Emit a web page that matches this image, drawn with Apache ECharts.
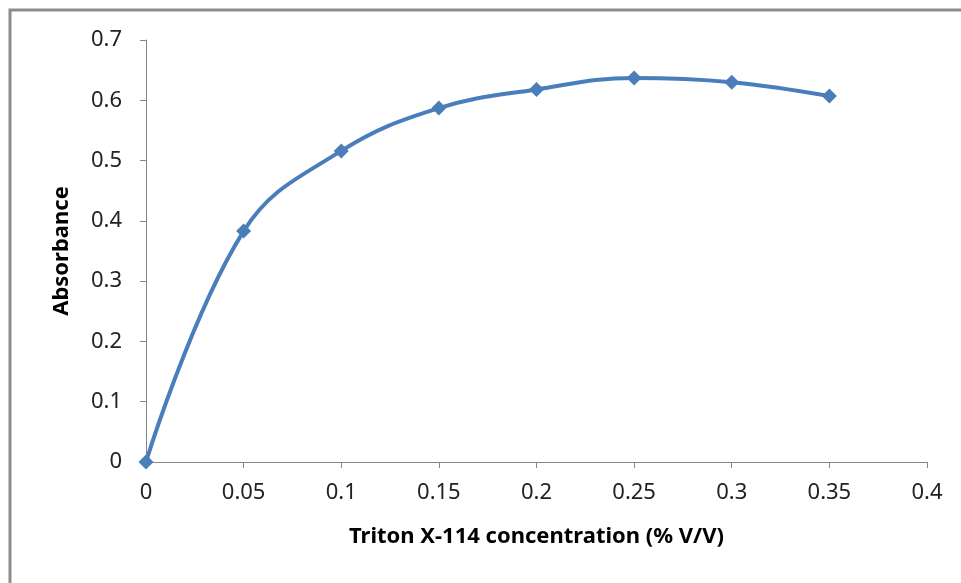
<!DOCTYPE html>
<html>
<head>
<meta charset="utf-8">
<script src="https://cdn.jsdelivr.net/npm/echarts@6/dist/echarts.min.js"></script>
<style>
  html, body { margin: 0; padding: 0; background: #fff; }
  #chart { width: 961px; height: 583px; }
</style>
</head>
<body>
<div id="chart"></div>
<script>
const concentration = [0, 0.05, 0.1, 0.15, 0.2, 0.25, 0.3, 0.35];
const absorbance = [0, 0.383, 0.516, 0.587, 0.618, 0.637, 0.630, 0.607];

const chart = echarts.init(document.getElementById("chart"));
const font = "Noto Sans";
const axisGray = "#868686";

const option = {
  animation: false,
  graphic: [
    {
      type: "polyline",
      shape: { points: [[10, 600], [10, 10], [980, 10]] },
      style: { stroke: "#8c8c8c", lineWidth: 3, fill: null },
    },
  ],
  grid: { left: 146, right: 34, top: 40, bottom: 121 },
  xAxis: {
    type: "value",
    min: 0,
    max: 0.4,
    interval: 0.05,
    name: "Triton X-114 concentration (% V/V)",
    nameLocation: "middle",
    nameGap: 64,
    nameTextStyle: { fontFamily: font, fontSize: 22, fontWeight: "bold", color: "#000" },
    axisLine: { lineStyle: { color: axisGray } },
    axisTick: { length: 6, lineStyle: { color: axisGray } },
    axisLabel: { fontFamily: font, fontSize: 22, color: "#222", margin: 20 },
    splitLine: { show: false },
  },
  yAxis: {
    type: "value",
    min: 0,
    max: 0.7,
    interval: 0.1,
    name: "Absorbance",
    nameLocation: "middle",
    nameGap: 73,
    nameTextStyle: { fontFamily: font, fontSize: 22, fontWeight: "bold", color: "#000" },
    axisLine: { show: true, lineStyle: { color: axisGray } },
    axisTick: { show: true, length: 6, lineStyle: { color: axisGray } },
    axisLabel: { fontFamily: font, fontSize: 22, color: "#222", margin: 24 },
    splitLine: { show: false },
  },
  series: [
    {
      type: "line",
      data: concentration.map((x, i) => [x, absorbance[i]]),
      smooth: 0.4,
      symbol: "diamond",
      symbolSize: 15,
      lineStyle: { color: "#4A7EBB", width: 4 },
      itemStyle: { color: "#4A7EBB" },
    },
  ],
};
chart.setOption(option);
</script>
</body>
</html>
